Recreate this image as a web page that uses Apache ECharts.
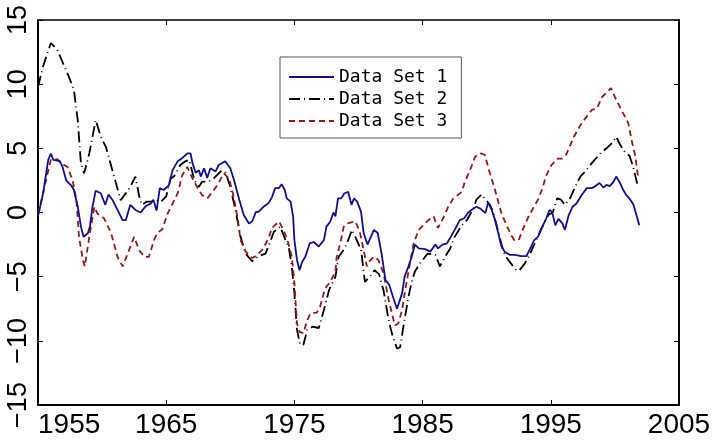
<!DOCTYPE html>
<html>
<head>
<meta charset="utf-8">
<script src="https://cdn.jsdelivr.net/npm/echarts@6/dist/echarts.min.js"></script>
<style>
  html, body { margin: 0; padding: 0; background: #fff; }
  #chart { width: 716px; height: 441px; }
</style>
</head>
<body>
<div id="chart"></div>
<script>
// series names
const seriesNames = ['Data Set 1', 'Data Set 2', 'Data Set 3'];

// Data Set 1 (solid blue)
const set1Years = [1955.0, 1955.4, 1955.8, 1956.0, 1956.2, 1956.7, 1956.9, 1957.2, 1957.6, 1957.8,
  1958.1, 1958.35, 1958.55, 1958.9, 1959.05, 1959.25, 1959.5, 1959.9, 1960.25, 1960.5,
  1960.8, 1961.2, 1961.6, 1961.85, 1962.2, 1962.6, 1963.0, 1963.4, 1963.8, 1964.0,
  1964.25, 1964.5, 1964.8, 1965.2, 1965.5, 1965.9, 1966.2, 1966.65, 1966.9, 1967.05,
  1967.3, 1967.55, 1967.7, 1967.95, 1968.2, 1968.45, 1968.85, 1969.1, 1969.6, 1970.0,
  1970.3, 1970.7, 1971.05, 1971.45, 1971.7, 1972.0, 1972.2, 1972.6, 1973.0, 1973.25,
  1973.5, 1973.8, 1974.0, 1974.25, 1974.4, 1974.7, 1974.9, 1975.0, 1975.2, 1975.4,
  1975.6, 1975.85, 1976.2, 1976.5, 1976.9, 1977.3, 1977.5, 1977.8, 1978.05, 1978.2,
  1978.4, 1978.65, 1978.9, 1979.2, 1979.45, 1979.65, 1979.9, 1980.2, 1980.4, 1980.7,
  1981.2, 1981.5, 1981.8, 1982.1, 1982.4, 1982.7, 1983.0, 1983.15, 1983.4, 1983.6,
  1983.9, 1984.15, 1984.4, 1984.7, 1985.2, 1985.6, 1986.0, 1986.2, 1986.55, 1986.9,
  1987.2, 1987.5, 1987.9, 1988.25, 1988.55, 1988.95, 1989.2, 1989.5, 1989.9, 1990.1,
  1990.4, 1990.65, 1990.9, 1991.15, 1991.4, 1991.8, 1992.2, 1992.7, 1993.1, 1993.4,
  1993.7, 1994.0, 1994.3, 1994.65, 1994.9, 1995.1, 1995.35, 1995.6, 1995.9, 1996.1,
  1996.4, 1996.7, 1997.0, 1997.4, 1997.8, 1998.2, 1998.4, 1998.8, 1999.1, 1999.35,
  1999.6, 1999.9, 2000.1, 2000.4, 2000.65, 2000.9, 2001.2, 2001.45, 2001.6, 2001.9];
const set1Values = [-0.3, 1.5, 4.1, 4.6, 4.1, 4.0, 3.6, 2.5, 2.1, 1.75,
  0.45, -1.1, -1.9, -1.6, -1.1, 0.45, 1.7, 1.5, 0.6, 1.4,
  1.0, 0.2, -0.6, -0.6, 0.6, 0.2, 0.0, 0.5, 0.7, 1.0,
  0.15, 1.9, 1.75, 2.1, 3.3, 4.0, 4.2, 4.6, 4.6, 3.85,
  3.1, 3.3, 2.8, 3.45, 2.7, 3.45, 3.2, 3.7, 4.0, 3.45,
  2.5, 1.0, -0.2, -0.85, -0.7, 0.05, 0.05, 0.45, 0.75, 1.2,
  1.9, 1.9, 2.2, 1.75, 1.1, 0.85, -0.3, -2.15, -3.7, -4.5,
  -3.85, -3.45, -2.4, -2.3, -2.65, -2.15, -1.1, -0.7, 0.0, -0.3,
  1.1, 1.1, 1.5, 1.6, 0.6, 1.1, 0.85, 0.05, -1.6, -2.5,
  -1.35, -1.6, -3.2, -5.25, -5.65, -6.6, -7.5, -7.5, -6.3, -5.0,
  -4.2, -3.45, -2.5, -2.8, -2.85, -3.05, -2.5, -2.8, -2.5, -2.4,
  -1.9, -1.35, -0.6, -0.45, 0.0, 0.3, 0.45, 0.3, -0.05, 0.75,
  0.2, -0.6, -1.6, -2.65, -3.05, -3.3, -3.3, -3.4, -3.4, -2.8,
  -2.15, -1.9, -1.2, -0.45, 0.2, 0.05, -1.0, -0.5, -0.85, -1.35,
  -0.2, 0.45, 0.7, 1.35, 1.9, 1.9, 2.0, 2.3, 1.95, 2.15,
  2.05, 2.4, 2.8, 2.3, 1.75, 1.35, 1.0, 0.6, 0.45, -1.0];

// Data Set 2 (black dash-dot)
const set2Years = [1955.0, 1955.4, 1956.0, 1956.5, 1956.9, 1957.4, 1957.8, 1958.1, 1958.35, 1958.6,
  1959.0, 1959.5, 1959.9, 1960.3, 1960.8, 1961.45, 1961.85, 1962.2, 1962.6, 1962.9,
  1963.1, 1963.5, 1963.9, 1964.1, 1964.6, 1965.0, 1965.35, 1965.6, 1966.1, 1966.5,
  1966.8, 1967.2, 1967.55, 1967.8, 1968.3, 1968.7, 1969.25, 1969.6, 1970.0, 1970.4,
  1970.8, 1971.2, 1971.7, 1972.2, 1972.75, 1973.1, 1973.4, 1973.9, 1974.3, 1974.55,
  1974.8, 1975.0, 1975.2, 1975.45, 1975.7, 1976.0, 1976.4, 1976.9, 1977.3, 1977.7,
  1978.2, 1978.45, 1978.85, 1979.1, 1979.5, 1979.75, 1980.2, 1980.5, 1980.9, 1981.25,
  1981.6, 1981.95, 1982.35, 1982.6, 1983.0, 1983.25, 1983.5, 1983.9, 1984.15, 1984.4,
  1984.8, 1985.2, 1985.4, 1986.0, 1986.35, 1986.75, 1987.15, 1987.5, 1988.05, 1988.45,
  1988.95, 1989.2, 1989.6, 1989.85, 1990.25, 1990.5, 1990.8, 1991.2, 1991.4, 1991.8,
  1992.3, 1992.55, 1992.95, 1993.35, 1993.75, 1994.3, 1994.8, 1995.15, 1995.5, 1995.8,
  1996.1, 1996.5, 1996.9, 1997.3, 1997.6, 1998.2, 1998.9, 1999.35, 1999.85, 2000.1,
  2000.4, 2000.75, 2001.15, 2001.45, 2001.75];
const set2Values = [9.8, 11.4, 13.2, 12.7, 11.75, 10.6, 9.55, 7.2, 3.8, 3.05,
  4.6, 7.2, 5.9, 5.1, 3.3, 0.95, 1.5, 2.0, 2.8, 1.25,
  0.6, 0.85, 0.85, 1.0, 0.85, 1.25, 2.65, 2.8, 3.7, 4.0,
  4.1, 2.5, 2.0, 2.4, 2.4, 2.65, 3.2, 3.2, 2.0, 0.2,
  -1.9, -3.2, -3.8, -3.4, -3.2, -2.3, -1.5, -1.1, -2.15, -2.65,
  -4.2, -6.3, -9.15, -10.3, -10.3, -9.15, -8.9, -9.0, -7.6, -6.05,
  -5.0, -3.45, -2.9, -2.4, -1.35, -1.9, -2.9, -5.4, -5.0, -4.5,
  -4.8, -6.05, -8.4, -9.4, -10.6, -10.5, -8.9, -6.55, -5.4, -4.6,
  -3.95, -3.45, -3.2, -3.3, -4.2, -3.45, -2.8, -1.9, -1.0, -0.6,
  0.3, 1.0, 1.4, 1.1, 0.6, 0.05, -1.1, -2.65, -3.3, -3.85,
  -4.5, -4.5, -4.0, -3.3, -2.4, -1.2, -0.2, 0.0, 1.1, 1.0,
  0.6, 1.1, 2.0, 2.8, 3.1, 3.85, 4.65, 5.0, 5.5, 5.9,
  5.3, 4.75, 4.4, 3.45, 2.2];

// Data Set 3 (dark red dashed)
const set3Years = [1955.0, 1955.4, 1955.75, 1956.0, 1956.5, 1956.9, 1957.3, 1957.7, 1958.0, 1958.2,
  1958.5, 1958.65, 1959.0, 1959.4, 1959.65, 1960.15, 1960.7, 1961.2, 1961.6, 1962.0,
  1962.5, 1962.9, 1963.3, 1963.65, 1964.05, 1964.3, 1964.7, 1965.1, 1965.5, 1965.9,
  1966.25, 1966.65, 1967.05, 1967.4, 1967.8, 1968.2, 1968.6, 1969.0, 1969.5, 1969.9,
  1970.2, 1970.55, 1970.8, 1971.2, 1971.7, 1972.0, 1972.5, 1973.0, 1973.25, 1973.8,
  1974.15, 1974.5, 1974.8, 1975.0, 1975.2, 1975.4, 1975.7, 1976.0, 1976.25, 1976.75,
  1977.0, 1977.4, 1977.8, 1978.2, 1978.3, 1978.6, 1978.85, 1979.1, 1979.75, 1980.1,
  1980.4, 1980.65, 1980.8, 1981.2, 1981.55, 1981.95, 1982.35, 1982.6, 1982.85, 1983.1,
  1983.4, 1983.6, 1983.9, 1984.3, 1984.7, 1985.05, 1985.45, 1985.85, 1986.2, 1986.6,
  1987.0, 1987.4, 1988.05, 1988.3, 1988.7, 1989.1, 1989.5, 1989.85, 1990.25, 1990.65,
  1991.15, 1991.55, 1991.9, 1992.15, 1992.5, 1992.8, 1993.2, 1993.6, 1994.0, 1994.3,
  1994.65, 1995.05, 1995.55, 1995.9, 1996.2, 1996.8, 1997.4, 1998.2, 1998.6, 1999.0,
  1999.7, 2000.0, 2000.5, 2001.05, 2001.3, 2001.6, 2001.8];
const set3Values = [-0.1, 1.5, 3.05, 4.1, 4.15, 3.8, 3.55, 2.5, 0.95, -1.9,
  -3.7, -4.2, -1.9, 0.45, -0.1, -0.45, -1.6, -3.45, -4.2, -3.2,
  -1.9, -2.95, -3.45, -3.45, -2.15, -1.6, -1.3, -0.1, 0.7, 1.5,
  2.9, 3.55, 2.65, 2.0, 1.35, 1.1, 1.6, 2.15, 3.05, 2.65,
  1.5, -0.3, -2.15, -3.05, -3.55, -3.4, -2.9, -2.0, -1.2, -0.7,
  -1.35, -2.3, -3.45, -5.5, -8.65, -9.3, -9.4, -8.4, -7.85, -7.8,
  -7.35, -5.9, -5.4, -4.6, -3.45, -2.3, -1.1, -0.85, -0.7, -1.5,
  -2.9, -4.2, -3.85, -3.45, -3.7, -4.75, -6.8, -7.85, -8.8, -8.65,
  -7.6, -6.3, -4.6, -2.4, -1.35, -1.0, -0.6, -0.3, -1.2, -0.45,
  0.45, 1.1, 1.6, 2.4, 3.3, 4.35, 4.6, 4.5, 3.05, 1.75,
  -0.05, -1.0, -1.75, -2.15, -2.15, -1.35, -0.45, 0.3, 1.0, 1.75,
  2.9, 3.7, 4.2, 4.2, 4.5, 5.9, 6.95, 8.0, 8.1, 9.0,
  9.7, 9.0, 8.0, 6.95, 5.65, 4.35, 2.8];

// axis ranges
const xRange = [1955, 2005];
const yRange = [-15, 15];

const pairs = (xs, ys) => xs.map((x, i) => [x, ys[i]]);

const chart = echarts.init(document.getElementById('chart'), null, { renderer: 'canvas' });

const tickFont = {
    fontFamily: 'Liberation Sans',
    fontSize: 28,
    color: '#000'
};

const axisLine = { show: true, onZero: false, lineStyle: { color: '#000', width: 2 } };
const axisTick = { show: true, inside: true, length: 5, lineStyle: { color: '#000', width: 1 } };

const option = {
    backgroundColor: '#fff',
    animation: false,
    grid: { left: 38, right: 37, top: 20, bottom: 36, containLabel: false },
    legend: {
        data: seriesNames,
        orient: 'vertical',
        left: 280,
        top: 57,
        itemWidth: 45,
        itemHeight: 14,
        itemGap: 4,
        padding: [11, 14, 8, 8],
        backgroundColor: '#fff',
        borderColor: '#555',
        borderWidth: 1,
        borderRadius: 0,
        itemStyle: { opacity: 0 },
        textStyle: {
            fontFamily: 'DejaVu Sans Mono',
            fontSize: 18,
            lineHeight: 18,
            color: '#000'
        }
    },
    xAxis: [
        {
            type: 'value',
            min: xRange[0],
            max: xRange[1],
            interval: 10,
            axisLine,
            axisTick,
            splitLine: { show: false },
            axisLabel: Object.assign({
                margin: 6,
                alignMinLabel: 'left',
                formatter: (v) => String(v)
            }, tickFont)
        },
        {
            type: 'value',
            position: 'top',
            min: xRange[0],
            max: xRange[1],
            interval: 10,
            axisLine: { show: true, onZero: false, lineStyle: { color: '#000', width: 1.5 } },
            axisTick,
            axisLabel: { show: false },
            splitLine: { show: false }
        }
    ],
    yAxis: [
        {
            type: 'value',
            min: yRange[0],
            max: yRange[1],
            interval: 5,
            axisLine,
            axisTick,
            splitLine: { show: false },
            axisLabel: Object.assign({
                rotate: 90,
                margin: 6,
                formatter: (v) => String(v).replace('-', '\u2212')
            }, tickFont, { fontSize: 27 })
        },
        {
            type: 'value',
            position: 'right',
            min: yRange[0],
            max: yRange[1],
            interval: 5,
            axisLine,
            axisTick,
            axisLabel: { show: false },
            splitLine: { show: false }
        }
    ],
    series: [
        {
            name: seriesNames[0],
            type: 'line',
            symbol: 'none',
            data: pairs(set1Years, set1Values),
            color: '#10108f',
            lineStyle: { color: '#10108f', width: 1.8 },
            z: 3
        },
        {
            name: seriesNames[1],
            type: 'line',
            symbol: 'none',
            data: pairs(set2Years, set2Values),
            color: '#000',
            lineStyle: { color: '#000', width: 1.8, type: [11, 4, 1, 4] },
            z: 2
        },
        {
            name: seriesNames[2],
            type: 'line',
            symbol: 'none',
            data: pairs(set3Years, set3Values),
            color: '#961818',
            lineStyle: { color: '#961818', width: 1.8, type: [6, 4] },
            z: 2
        }
    ]
};

chart.setOption(option);
</script>
</body>
</html>
